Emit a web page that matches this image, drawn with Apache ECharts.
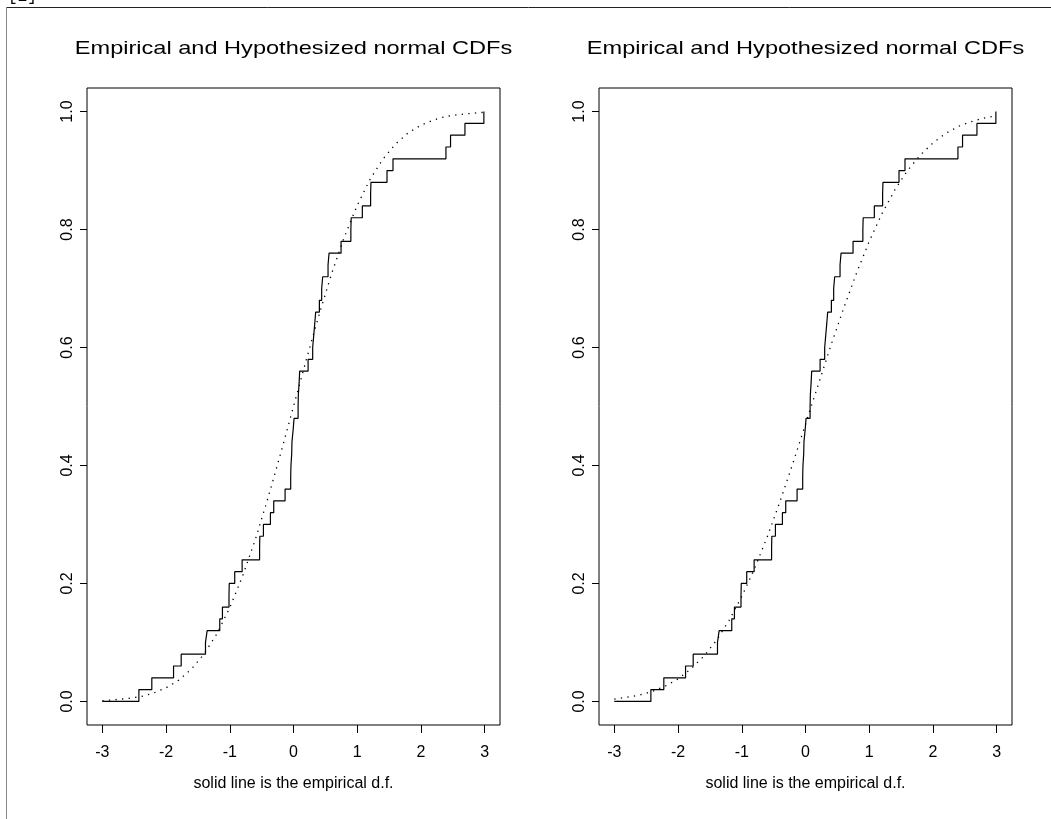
<!DOCTYPE html>
<html>
<head>
<meta charset="utf-8">
<script src="https://cdn.jsdelivr.net/npm/echarts@6/dist/echarts.min.js"></script>
<style>
html, body { margin: 0; padding: 0; background: #fff; }
#chart { width: 1051px; height: 819px; }
</style>
</head>
<body>
<div id="chart"></div>
<script>
// sorted sample (jump points of the empirical d.f.), same sample in both panels
var ecdfStartX = -3;
var ecdfX = [
    -2.426, -2.223, -1.882, -1.762, -1.381, -1.355, -1.157, -1.115, -1.012, -1.008,
    -0.922, -0.806, -0.532, -0.528, -0.472, -0.362, -0.310, -0.132, -0.044, -0.040,
    -0.028, -0.024, -0.006, 0.009, 0.072, 0.076, 0.088, 0.097, 0.229, 0.301,
    0.317, 0.333, 0.348, 0.406, 0.442, 0.458, 0.542, 0.558, 0.746, 0.900,
    0.905, 1.080, 1.210, 1.215, 1.467, 1.561, 2.392, 2.464, 2.690, 2.987
];
var ecdfY = [
    0.02, 0.04, 0.06, 0.08, 0.10, 0.12, 0.14, 0.16, 0.18, 0.20,
    0.22, 0.24, 0.26, 0.28, 0.30, 0.32, 0.34, 0.36, 0.38, 0.40,
    0.42, 0.44, 0.46, 0.48, 0.50, 0.52, 0.54, 0.56, 0.58, 0.60,
    0.62, 0.64, 0.66, 0.68, 0.70, 0.72, 0.74, 0.76, 0.78, 0.80,
    0.82, 0.84, 0.86, 0.88, 0.90, 0.92, 0.94, 0.96, 0.98, 1.00
];

// dotted hypothesized normal CDFs, read at these x positions
var curveX = [
    -3.0, -2.8, -2.6, -2.4, -2.2, -2.0, -1.8, -1.6, -1.4, -1.2, -1.0,
    -0.8, -0.6, -0.4, -0.2, 0.0, 0.2, 0.4, 0.6, 0.8, 1.0,
    1.2, 1.4, 1.6, 1.8, 2.0, 2.2, 2.4, 2.6, 2.8, 3.0
];
var curveLeft = [
    0.001, 0.003, 0.005, 0.008, 0.014, 0.023, 0.036, 0.055, 0.081, 0.115, 0.159,
    0.212, 0.274, 0.345, 0.421, 0.500, 0.579, 0.655, 0.726, 0.788, 0.841,
    0.885, 0.919, 0.945, 0.964, 0.977, 0.986, 0.992, 0.995, 0.997, 0.999
];
var curveRight = [
    0.004, 0.007, 0.011, 0.017, 0.026, 0.038, 0.055, 0.076, 0.103, 0.137, 0.178,
    0.225, 0.279, 0.339, 0.403, 0.470, 0.537, 0.604, 0.667, 0.726, 0.780,
    0.827, 0.867, 0.900, 0.926, 0.947, 0.963, 0.975, 0.983, 0.989, 0.993
];

var xTicks = [-3, -2, -1, 0, 1, 2, 3];
var yTicks = [0, 0.2, 0.4, 0.6, 0.8, 1.0];

var titleText = 'Empirical and Hypothesized normal CDFs';
var xName = 'solid line is the empirical d.f.';
var FONT = '"Liberation Sans", Arial, sans-serif';

function pairs(xs, ys) {
    return xs.map(function (x, i) { return [x, ys[i]]; });
}
var stepData = [[ecdfStartX, 0]].concat(pairs(ecdfX, ecdfY));

function xAxisFor(idx) {
    return {
        gridIndex: idx,
        type: 'value',
        min: -3.24,
        max: 3.24,
        name: xName,
        nameLocation: 'middle',
        nameGap: 51,
        nameTextStyle: { color: '#000', fontSize: 16, fontFamily: FONT },
        axisLine: { show: false, onZero: false },
        splitLine: { show: false },
        axisTick: {
            show: true,
            length: 8,
            customValues: xTicks,
            lineStyle: { color: '#000', width: 1 }
        },
        axisLabel: {
            customValues: xTicks,
            margin: 20,
            color: '#000',
            fontSize: 16,
            fontFamily: FONT,
            formatter: function (v) { return String(v); }
        }
    };
}

function yAxisFor(idx) {
    return {
        gridIndex: idx,
        type: 'value',
        min: -0.04,
        max: 1.04,
        axisLine: { show: false, onZero: false },
        splitLine: { show: false },
        axisTick: {
            show: true,
            length: 7,
            customValues: yTicks,
            lineStyle: { color: '#000', width: 1 }
        },
        axisLabel: {
            customValues: yTicks,
            rotate: 90,
            margin: 11,
            color: '#000',
            fontSize: 16,
            fontFamily: FONT,
            formatter: function (v) { return v.toFixed(1); }
        }
    };
}

function stepSeries(idx) {
    return {
        type: 'line',
        xAxisIndex: idx,
        yAxisIndex: idx,
        data: stepData,
        step: 'end',
        showSymbol: false,
        silent: true,
        lineStyle: { color: '#000', width: 1.2 }
    };
}

function curveSeries(idx, ys) {
    return {
        type: 'line',
        xAxisIndex: idx,
        yAxisIndex: idx,
        data: pairs(curveX, ys),
        showSymbol: false,
        silent: true,
        lineStyle: { color: '#000', width: 1.3, type: [1.3, 5.3] }
    };
}

function titleFor(cx) {
    return {
        type: 'text',
        x: cx,
        y: 49,
        scaleX: 1.24,
        style: {
            text: titleText,
            fill: '#000',
            font: '19px ' + FONT,
            textAlign: 'center',
            textVerticalAlign: 'middle'
        }
    };
}

var chart = echarts.init(document.getElementById('chart'));
var option = {
    animation: false,
    backgroundColor: '#fff',
    grid: [
        { left: 87, top: 88, width: 413, height: 637, show: true, borderColor: '#000', borderWidth: 1, backgroundColor: 'transparent' },
        { left: 599, top: 88, width: 413, height: 637, show: true, borderColor: '#000', borderWidth: 1, backgroundColor: 'transparent' }
    ],
    xAxis: [xAxisFor(0), xAxisFor(1)],
    yAxis: [yAxisFor(0), yAxisFor(1)],
    series: [
        stepSeries(0),
        curveSeries(0, curveLeft),
        stepSeries(1),
        curveSeries(1, curveRight)
    ],
    graphic: [
        // page frame and clipped console line above it
        { type: 'line', shape: { x1: 6, y1: 7.5, x2: 1051, y2: 7.5 }, style: { stroke: '#222', lineWidth: 1 } },
        { type: 'line', shape: { x1: 6.5, y1: 7, x2: 6.5, y2: 819 }, style: { stroke: '#888', lineWidth: 1 } },
        { type: 'text', x: 8, y: 5, style: { text: '[1]', fill: '#000', font: '16px "Liberation Mono", monospace', textVerticalAlign: 'bottom' } },
        titleFor(293.5),
        titleFor(805.5)
    ]
};
chart.setOption(option);
</script>
</body>
</html>
